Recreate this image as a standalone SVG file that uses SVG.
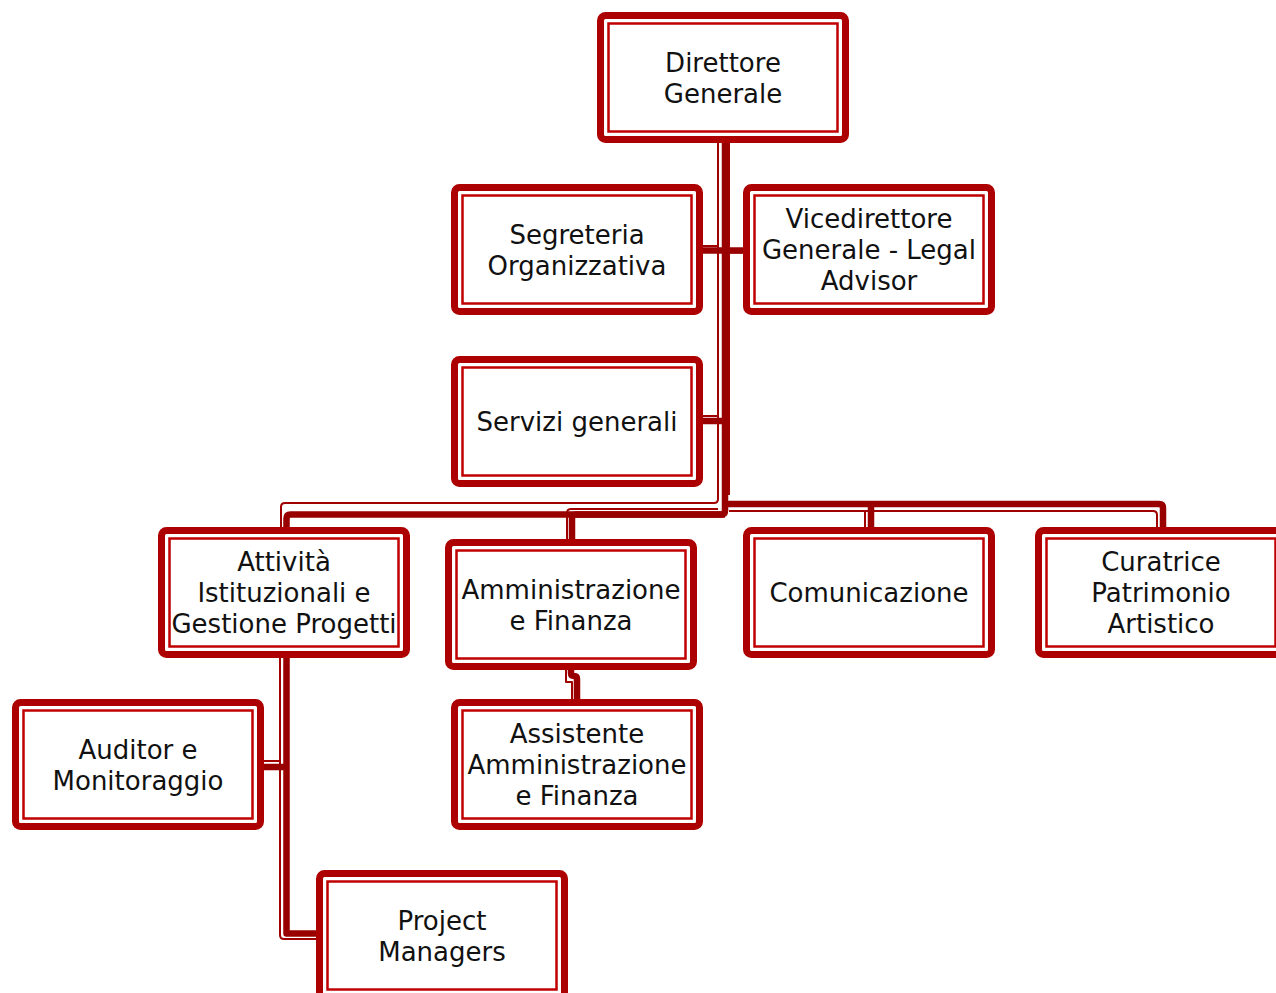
<svg xmlns="http://www.w3.org/2000/svg" width="1276" height="993" viewBox="0 0 1276 993">
<style>
.o{fill:#fff;stroke:#AD0000;stroke-width:7}
.i{fill:none;stroke:#C00000;stroke-width:2.5}
.t{font-family:"DejaVu Sans",sans-serif;font-size:26px;fill:#111;text-anchor:middle}
.ck{fill:none;stroke:#990000;stroke-width:6.5;stroke-linejoin:round}
.cn{fill:none;stroke:#A00000;stroke-width:2;stroke-linejoin:round}
</style>
<rect width="1276" height="993" fill="#fff"/>
<g id="connectors">
  <path class="cn" d="M718,143 V499 Q718,503 714,503 H285 Q281,503 281,507 V528"/>
  <path class="cn" d="M729,143 V495"/>
  <path class="cn" d="M729,511 H1153 Q1157,511 1157,515 V528"/>
  <path class="cn" d="M865,511 V528"/>
  <path class="cn" d="M718,509 H571 Q567,509 567,513 V540"/>
  <path class="cn" d="M702,246 H718"/>
  <path class="cn" d="M729,252.5 H743"/>
  <path class="cn" d="M702,416 H718"/>
  <path class="cn" d="M566,670 V682 H572 V700"/>
  <path class="cn" d="M280,658 V935 Q280,939 284,939 H316"/>
  <path class="cn" d="M263,761 H280"/>
  <path class="ck" d="M725,143 V510.5 Q725,514.5 721,514.5 H290.5 Q286.5,514.5 286.5,518.5 V528"/>
  <path class="ck" d="M725,514.5 H576 Q572,514.5 572,518.5 V540"/>
  <path class="ck" d="M725,504 H1159 Q1163,504 1163,508 V528"/>
  <path class="ck" d="M871,504 V528"/>
  <path class="ck" d="M702,250.5 H743"/>
  <path class="ck" d="M702,421 H725"/>
  <path class="ck" d="M571,670 V673 Q571,676 574,676 Q577,676 577,679 V700"/>
  <path class="ck" d="M286.5,658 V933.5 H316"/>
  <path class="ck" d="M263,767 H286.5"/>
</g>
<g id="direttore">
  <rect class="o" x="600.5" y="15.5" width="245" height="124" rx="5"/>
  <rect class="i" x="608.5" y="23.5" width="229" height="108"/>
  <text class="t" x="723" y="71.5">Direttore</text>
  <text class="t" x="723" y="102.5">Generale</text>
</g>
<g id="segreteria">
  <rect class="o" x="454.5" y="187.5" width="245" height="124" rx="5"/>
  <rect class="i" x="462.5" y="195.5" width="229" height="108"/>
  <text class="t" x="577" y="243.5">Segreteria</text>
  <text class="t" x="577" y="274.5">Organizzativa</text>
</g>
<g id="vicedirettore">
  <rect class="o" x="746.5" y="187.5" width="245" height="124" rx="5"/>
  <rect class="i" x="754.5" y="195.5" width="229" height="108"/>
  <text class="t" x="869" y="228">Vicedirettore</text>
  <text class="t" x="869" y="259">Generale - Legal</text>
  <text class="t" x="869" y="290">Advisor</text>
</g>
<g id="servizi">
  <rect class="o" x="454.5" y="359.5" width="245" height="124" rx="5"/>
  <rect class="i" x="462.5" y="367.5" width="229" height="108"/>
  <text class="t" x="577" y="431">Servizi generali</text>
</g>
<g id="attivita">
  <rect class="o" x="161.5" y="530.5" width="245" height="124" rx="5"/>
  <rect class="i" x="169.5" y="538.5" width="229" height="108"/>
  <text class="t" x="284" y="571">Attività</text>
  <text class="t" x="284" y="602">Istituzionali e</text>
  <text class="t" x="284" y="633">Gestione Progetti</text>
</g>
<g id="amministrazione">
  <rect class="o" x="448.5" y="542.5" width="245" height="124" rx="5"/>
  <rect class="i" x="456.5" y="550.5" width="229" height="108"/>
  <text class="t" x="571" y="598.5">Amministrazione</text>
  <text class="t" x="571" y="629.5">e Finanza</text>
</g>
<g id="comunicazione">
  <rect class="o" x="746.5" y="530.5" width="245" height="124" rx="5"/>
  <rect class="i" x="754.5" y="538.5" width="229" height="108"/>
  <text class="t" x="869" y="602">Comunicazione</text>
</g>
<g id="curatrice">
  <rect class="o" x="1038.5" y="530.5" width="245" height="124" rx="5"/>
  <rect class="i" x="1046.5" y="538.5" width="229" height="108"/>
  <text class="t" x="1161" y="571">Curatrice</text>
  <text class="t" x="1161" y="602">Patrimonio</text>
  <text class="t" x="1161" y="633">Artistico</text>
</g>
<g id="auditor">
  <rect class="o" x="15.5" y="702.5" width="245" height="124" rx="5"/>
  <rect class="i" x="23.5" y="710.5" width="229" height="108"/>
  <text class="t" x="138" y="758.5">Auditor e</text>
  <text class="t" x="138" y="789.5">Monitoraggio</text>
</g>
<g id="assistente">
  <rect class="o" x="454.5" y="702.5" width="245" height="124" rx="5"/>
  <rect class="i" x="462.5" y="710.5" width="229" height="108"/>
  <text class="t" x="577" y="743">Assistente</text>
  <text class="t" x="577" y="774">Amministrazione</text>
  <text class="t" x="577" y="805">e Finanza</text>
</g>
<g id="projectmanagers">
  <rect class="o" x="319.5" y="873.5" width="245" height="124" rx="5"/>
  <rect class="i" x="327.5" y="881.5" width="229" height="108"/>
  <text class="t" x="442" y="929.5">Project</text>
  <text class="t" x="442" y="960.5">Managers</text>
</g>
</svg>
